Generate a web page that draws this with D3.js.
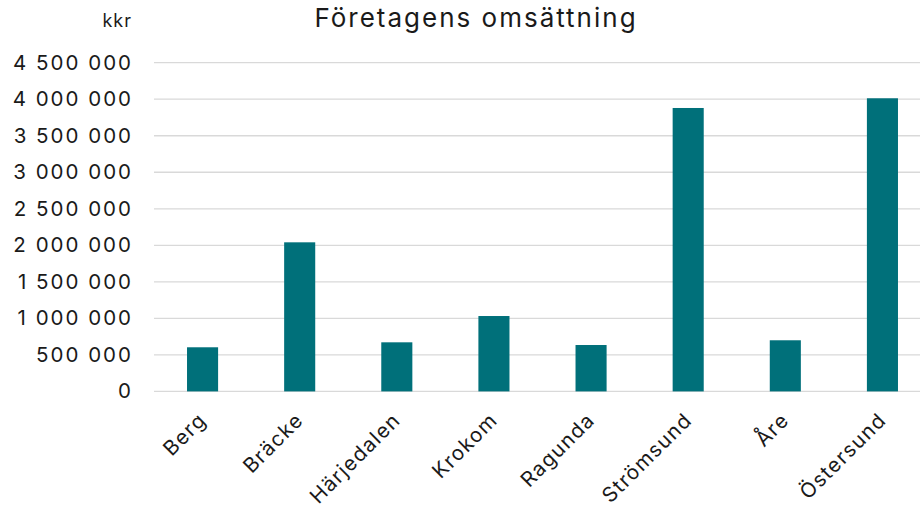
<!DOCTYPE html>
<html>
<head>
<meta charset="utf-8">
<script src="https://cdn.jsdelivr.net/npm/d3@7/dist/d3.min.js"></script>
<style>
  html, body { margin: 0; padding: 0; background: #fff; }
  svg { display: block; font-family: Inter, "Open Sans", sans-serif; }
</style>
</head>
<body>
<svg id="chart" width="920" height="511"></svg>
<script>
const title = "Företagens omsättning";
const unitLabel = "kkr";
const categories = ["Berg", "Bräcke", "Härjedalen", "Krokom", "Ragunda", "Strömsund", "Åre", "Östersund"];
const values = [604000, 2041000, 672000, 1032000, 635000, 3880000, 700000, 4013000];
const yTicks = [0, 500000, 1000000, 1500000, 2000000, 2500000, 3000000, 3500000, 4000000, 4500000];

const svg = d3.select("#chart");
const W = 920, H = 511;
const plot = { left: 154, right: 931, top: 62.7, bottom: 391.4 };
const FONT = "Inter, 'Open Sans', sans-serif";
const INK = "#1a1a1a";

const x = d3.scaleBand().domain(categories).range([plot.left, plot.right]).paddingInner(0.68).paddingOuter(0.34);
const y = d3.scaleLinear().domain([0, 4500000]).range([plot.bottom, plot.top]);

const fmt = v => d3.format(",")(v).replace(/,/g, " ");

// gridlines
svg.append("g").selectAll("line").data(yTicks).join("line")
  .attr("x1", plot.left).attr("x2", W)
  .attr("y1", d => y(d)).attr("y2", d => y(d))
  .attr("stroke", "#d9d9d9").attr("stroke-width", 1.3);

// y axis labels
const yAxis = d3.axisLeft(y).tickValues(yTicks).tickFormat(fmt).tickSize(0).tickPadding(0);
const gy = svg.append("g").attr("transform", `translate(133,0)`).call(yAxis);
gy.select(".domain").remove();
gy.selectAll("text").attr("font-size", 20.5).attr("fill", INK).attr("font-family", FONT)
  .attr("letter-spacing", 2).attr("font-weight", 400);

// bars
svg.append("g").selectAll("rect").data(categories).join("rect")
  .attr("x", d => x(d)).attr("width", x.bandwidth())
  .attr("y", (d, i) => y(values[i]))
  .attr("height", (d, i) => y(0) - y(values[i]))
  .attr("fill", "#00707a");

// x axis labels
const xAxis = d3.axisBottom(x).tickSize(0).tickPadding(0);
const gx = svg.append("g").attr("transform", `translate(0,${plot.bottom})`).call(xAxis);
gx.select(".domain").remove();
gx.selectAll("text")
  .attr("font-size", 20.5).attr("fill", INK).attr("font-family", FONT)
  .attr("letter-spacing", 1.3)
  .attr("text-anchor", "end").attr("dy", null).attr("y", 0)
  .attr("transform", "translate(5,30) rotate(-45)");

// title
svg.append("text").attr("x", 476).attr("y", 27).attr("text-anchor", "middle")
  .attr("font-family", FONT).attr("letter-spacing", 2)
  .attr("font-size", 26).attr("fill", INK).text(title);

// unit
svg.append("text").attr("x", 132).attr("y", 27).attr("text-anchor", "end")
  .attr("font-family", FONT).attr("letter-spacing", 1)
  .attr("font-size", 18).attr("fill", INK).text(unitLabel);
</script>
</body>
</html>
